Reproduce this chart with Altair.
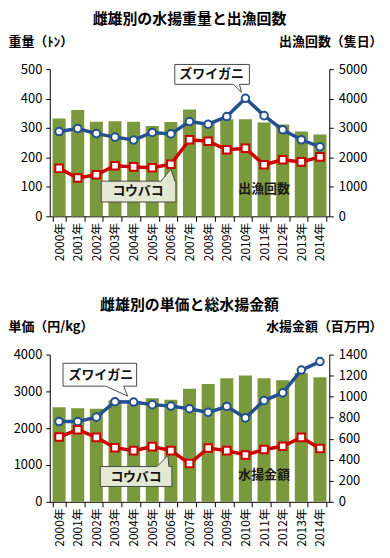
import altair as alt
import pandas as pd

FONT = "Noto Sans CJK JP"
GREEN = "#7a983c"
BLUE = "#24508f"
RED = "#cc0000"

years = ["2000年", "2001年", "2002年", "2003年", "2004年", "2005年", "2006年", "2007年",
         "2008年", "2009年", "2010年", "2011年", "2012年", "2013年", "2014年"]
series_names = ["ズワイガニ", "コウバコ"]

# Top panel: landing weight (t, lines, left axis) and fishing trips (boat-days, bars, right axis)
weight_zuwai = [288, 298, 281, 269, 259, 285, 280, 322, 313, 339, 401, 342, 294, 260, 236]
weight_kobako = [163, 130, 141, 172, 168, 165, 177, 260, 255, 226, 231, 175, 192, 185, 202]
trips = [3320, 3610, 3210, 3230, 3210, 3070, 3200, 3630, 3150, 3300, 3300, 3190, 3120, 2880, 2780]

# Bottom panel: unit price (yen/kg, lines, left axis) and landing value (million yen, bars, right axis)
price_zuwai = [2180, 2180, 2300, 2720, 2710, 2640, 2600, 2530, 2430, 2590, 2280, 2750, 2960, 3580, 3810]
price_kobako = [1760, 1960, 1750, 1470, 1390, 1500, 1390, 1040, 1460, 1390, 1270, 1420, 1510, 1750, 1450]
landing_value = [900, 890, 885, 965, 945, 985, 970, 1075, 1120, 1175, 1200, 1175, 1155, 1225, 1185]

W, H = 281, 148


def panel(title, bar_vals, bar_max, bar_step, zuwai, kobako, line_max, line_step,
          left_title, right_title, bar_label, bar_label_year, bar_label_val, callouts):
    bars_df = pd.DataFrame({"year": years, "bar": bar_vals})
    lines_df = pd.DataFrame({
        "year": years + years,
        "series": [series_names[0]] * len(years) + [series_names[1]] * len(years),
        "value": zuwai + kobako,
    })
    x = alt.X("year:N", sort=years, title=None,
              scale=alt.Scale(paddingInner=0.3, paddingOuter=0.15),
              axis=alt.Axis(labelAngle=270, tickBand="extent", tickSize=5,
                            labelPadding=1, labelFontSize=12))
    by = alt.Y("bar:Q", scale=alt.Scale(domain=[0, bar_max], nice=False),
               axis=alt.Axis(orient="right", values=list(range(0, bar_max + 1, bar_step)),
                             format="d", labelFontSize=13,
                             title=right_title, titleAngle=0, titleAlign="right",
                             titleBaseline="middle", titleX=53, titleY=-28,
                             tickSize=4, labelPadding=5))
    ly = alt.Y("value:Q", scale=alt.Scale(domain=[0, line_max], nice=False),
               axis=alt.Axis(orient="left", values=list(range(0, line_max + 1, line_step)),
                             format="d", labelFontSize=13,
                             title=left_title, titleAngle=0, titleAlign="left",
                             titleBaseline="middle", titleX=-42, titleY=-28,
                             tickSize=4, labelPadding=4))
    bars = alt.Chart(bars_df).mark_bar(color=GREEN).encode(x=x, y=by)
    lbl = alt.Chart(pd.DataFrame({"year": [bar_label_year], "bar": [bar_label_val],
                                  "t": [bar_label]})).mark_text(
        font=FONT, fontSize=13, fontWeight="bold", color="#1a1a1a").encode(x=x, y=by, text="t:N")

    cscale = alt.Scale(domain=series_names, range=[BLUE, RED])
    lines = alt.Chart(lines_df).mark_line(strokeWidth=3.5).encode(
        x=x, y=ly, color=alt.Color("series:N", scale=cscale, legend=None))
    pts = alt.Chart(lines_df).mark_point(filled=True, fill="white", opacity=1, size=58,
                                         strokeWidth=2).encode(
        x=x, y=ly,
        stroke=alt.Stroke("series:N", scale=cscale, legend=None),
        shape=alt.Shape("series:N", scale=alt.Scale(domain=series_names, range=["circle", "square"]),
                        legend=None))
    layers = [lines, pts]
    for c in callouts:
        cdf = pd.DataFrame({"year": [c["year"]], "value": [c["value"]], "t": [c["text"]]})
        box = alt.Chart(cdf).mark_point(shape=c["path"], size=4, filled=True, fill=c["fill"],
                                        stroke="#4a4a4a", strokeWidth=1, opacity=1).encode(x=x, y=ly)
        txt = alt.Chart(cdf).mark_text(dx=c["dx"], dy=c["dy"], font=FONT, fontSize=13,
                                       fontWeight="bold", color="#111111").encode(
            x=x, y=ly, text="t:N")
        layers += [box, txt]
    line_layer = alt.layer(*layers)
    return alt.layer(alt.layer(bars, lbl), line_layer).resolve_scale(y="independent").properties(
        width=W, height=H,
        title=alt.TitleParams(title, font=FONT, fontSize=15, fontWeight="bold",
                              anchor="middle", frame="group", offset=8, color="black"))


top = panel(
    "雌雄別の水揚重量と出漁回数", trips, 5000, 1000, weight_zuwai, weight_kobako, 500, 100,
    "重量（ﾄﾝ）", "出漁回数（隻日）", "出漁回数", "2011年", 922,
    [
        {"year": "2010年", "value": weight_zuwai[10], "text": "ズワイガニ", "fill": "white",
         "path": "M-71,-34 L4,-34 L4,-14 L-6,-14 L-4,-6 L-12,-14 L-71,-14 Z", "dx": -34, "dy": -24},
        {"year": "2006年", "value": weight_kobako[6], "text": "コウバコ", "fill": "#e3e8d3",
         "path": "M-70,17 L-10,17 L0,5 L4,17 L5,17 L5,38 L-70,38 Z", "dx": -33, "dy": 27},
    ],
)

bottom = panel(
    "雌雄別の単価と総水揚金額", landing_value, 1400, 200, price_zuwai, price_kobako, 4000, 1000,
    "単価（円/kg）", "水揚金額（百万円）", "水揚金額", "2011年", 250,
    [
        {"year": "2004年", "value": price_zuwai[4], "text": "ズワイガニ", "fill": "white",
         "path": "M-71,-39 L3,-39 L3,-16 L-10,-16 L-6,-6 L-28,-16 L-71,-16 Z", "dx": -33, "dy": -27},
        {"year": "2006年", "value": price_kobako[6], "text": "コウバコ", "fill": "#e3e8d3",
         "path": "M-71,16 L-14,16 L-3,5 L-2,16 L1,16 L1,36 L-71,36 Z", "dx": -35, "dy": 27},
    ],
)

chart = alt.vconcat(top, bottom, spacing=37).properties(
    padding={"left": 0, "top": 3, "right": 0, "bottom": 0}
).configure(
    font=FONT
).configure_axis(
    labelColor="black", titleColor="black", domainColor="black", tickColor="black",
    grid=False, labelFontSize=12, titleFontSize=13, titleFontWeight="bold",
    labelFont=FONT, titleFont=FONT,
).configure_view(stroke=None)

chart.save("out.html", embed_options={"renderer": "svg", "actions": False})
